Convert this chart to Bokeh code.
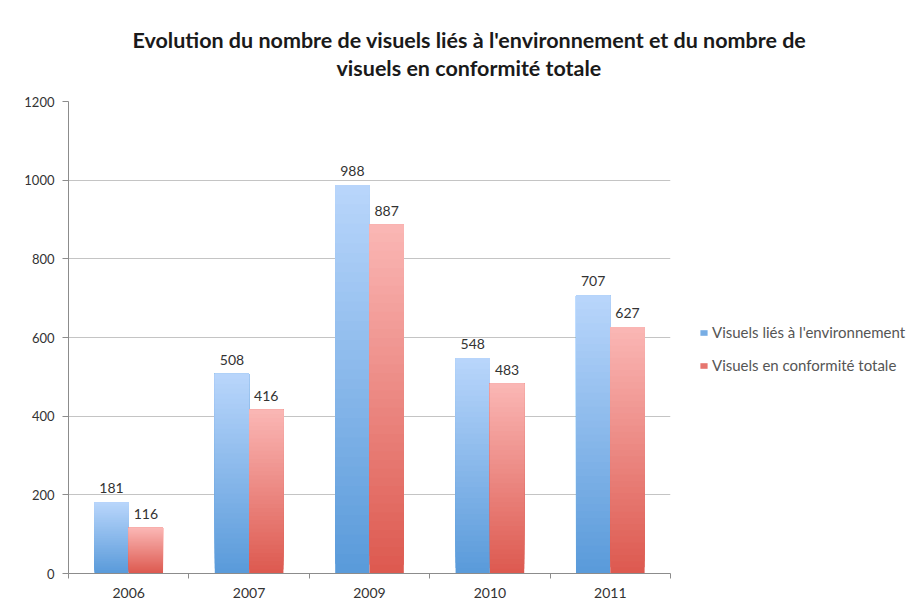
from bokeh.plotting import figure
from bokeh.models import (Range1d, FixedTicker, Legend, LegendItem, Title,
                          ColumnDataSource)
from bokeh.core.properties import value
from bokeh.embed import file_html
from bokeh.resources import INLINE

# ---- data ----
years = ["2006", "2007", "2009", "2010", "2011"]
visuels_env = [181, 508, 988, 548, 707]
visuels_conf = [116, 416, 887, 483, 627]
series_names = ["Visuels liés à l'environnement", "Visuels en conformité totale"]
title_lines = ["Evolution du nombre de visuels liés à l'environnement et du nombre de",
               "visuels en conformité totale"]
y_ticks = [0, 200, 400, 600, 800, 1000, 1200]

FONT = "Lato"
blue_top, blue_bot = (184, 213, 251), (90, 155, 218)
red_top, red_bot = (250, 182, 180), (221, 90, 80)

p = figure(frame_width=602, frame_height=472, output_backend="svg",
           toolbar_location=None,
           x_range=Range1d(0.5, len(years) + 0.5), y_range=Range1d(0, 1200),
           min_border_left=68, min_border_right=229, min_border_top=101,
           min_border_bottom=22)
p.outline_line_color = None
p.background_fill_color = "white"
p.border_fill_color = "white"

# gradient bars: each bar painted as stacked rectangles from a rising bottom to the value
N = 40
def hexc(c):
    return "#%02x%02x%02x" % tuple(int(round(v)) for v in c)

def add_bars(vals, offset, top_c, bot_c):
    xs, bots, tops, cols = [], [], [], []
    for i, v in enumerate(vals):
        for k in range(N):
            t = k / (N - 1)
            xs.append(i + 1 + offset)
            bots.append(v * k / N)
            tops.append(v)
            cols.append(hexc([b + (tt - b) * t for b, tt in zip(bot_c, top_c)]))
    src = ColumnDataSource(dict(x=xs, bottom=bots, top=tops, color=cols))
    return p.vbar(x="x", bottom="bottom", top="top", width=0.285, color="color",
                  line_color=None, source=src)

rb = add_bars(visuels_env, -0.1425, blue_top, blue_bot)
rr = add_bars(visuels_conf, 0.1425, red_top, red_bot)

# value labels
for vals, off in ((visuels_env, -0.1425), (visuels_conf, 0.1425)):
    src = ColumnDataSource(dict(x=[i + 1 + off for i in range(len(vals))],
                                y=vals, t=[str(v) for v in vals]))
    p.text(x="x", y="y", text="t", source=src, text_align="center",
           text_baseline="bottom", y_offset=-9, text_font=value(FONT),
           text_font_size="14px", text_color="#333333")

# axes
p.yaxis.ticker = FixedTicker(ticks=y_ticks)
p.yaxis.major_label_text_font = FONT
p.yaxis.major_label_text_font_size = "13px"
p.yaxis.major_label_text_color = "#333333"
p.yaxis.axis_line_color = "#8c8c8c"
p.yaxis.major_tick_line_color = "#8c8c8c"
p.yaxis.major_tick_out = 6
p.yaxis.major_tick_in = 0
p.yaxis.minor_tick_line_color = None
p.yaxis.major_label_standoff = 8

p.xaxis.ticker = FixedTicker(ticks=[i + 1 for i in range(len(years))],
                             minor_ticks=[i + 0.5 for i in range(len(years) + 1)])
p.xaxis.major_label_overrides = {i + 1: y for i, y in enumerate(years)}
p.xaxis.major_label_text_font = FONT
p.xaxis.major_label_text_font_size = "14px"
p.xaxis.major_label_text_color = "#333333"
p.xaxis.axis_line_color = "#8c8c8c"
p.xaxis.major_tick_line_color = None
p.xaxis.major_tick_out = 0
p.xaxis.major_tick_in = 0
p.xaxis.minor_tick_line_color = "#8c8c8c"
p.xaxis.minor_tick_out = 5
p.xaxis.minor_tick_in = 0
p.xaxis.major_label_standoff = 9

p.xgrid.grid_line_color = None
p.ygrid.grid_line_color = "#c4c4c4"

# legend
legend = Legend(items=[LegendItem(label=series_names[0], renderers=[rb], index=12),
                       LegendItem(label=series_names[1], renderers=[rr], index=12)],
                location="center_left", glyph_width=9, glyph_height=7,
                label_text_font=FONT, label_text_font_size="15px",
                label_text_color="#555555", label_standoff=4, spacing=15,
                padding=0, margin=29, border_line_color=None,
                background_fill_alpha=0, title=" ", title_text_font_size="10px",
                title_standoff=12)
p.add_layout(legend, "right")

# title: spacer closest to the frame, then line 2, then line 1
p.add_layout(Title(text=" ", text_font_size="17px", standoff=0), "above")
offsets = [64, 268]
for line, off in zip(reversed(title_lines), reversed(offsets)):
    p.add_layout(Title(text=line, align="left", offset=off, text_font=FONT,
                       text_font_style="bold", text_font_size="21.5px",
                       text_color="#1a1a1a", standoff=0), "above")

open("out.html", "w").write(file_html(p, INLINE))
